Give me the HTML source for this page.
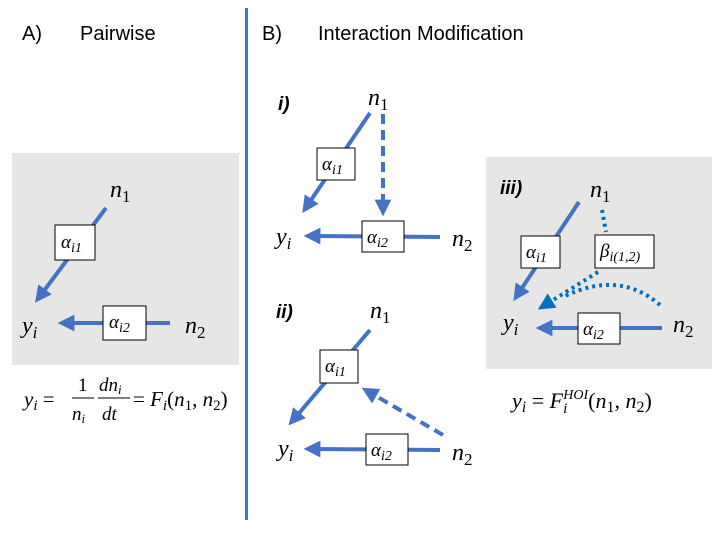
<!DOCTYPE html>
<html><head><meta charset="utf-8"><style>
body{margin:0;background:#fff}
svg{display:block}
.t{font-family:"Liberation Sans",sans-serif;font-size:20px;fill:#000}
.m{font-family:"Liberation Serif",serif;font-style:italic;fill:#000}
.lab{font-family:"Liberation Sans",sans-serif;font-style:italic;font-weight:bold;font-size:19px}
.bx{fill:#fff;stroke:#000;stroke-width:1}
.ln{stroke:#4472c4;stroke-width:4;fill:none}
.dt{stroke:#0070c0;stroke-width:4;fill:none;stroke-dasharray:3 4}
</style></head><body>
<svg width="720" height="540" viewBox="0 0 720 540">
<defs><marker id="ah" viewBox="0 0 10 10" refX="5" refY="5" markerWidth="4.2" markerHeight="4.2" orient="auto"><path d="M0,0L10,5L0,10z" fill="#4472c4"/></marker>
<marker id="ah2" viewBox="0 0 10 10" refX="5" refY="5" markerWidth="4.2" markerHeight="4.2" orient="auto"><path d="M0,0L10,5L0,10z" fill="#0070c0"/></marker></defs>
<text class="t" x="22" y="40">A)</text>
<text class="t" x="80" y="40">Pairwise</text>
<text class="t" x="262" y="40">B)</text>
<text class="t" x="318" y="40">Interaction Modification</text>
<rect x="245" y="8" width="3" height="512" fill="#4472c4"/>
<g>
<rect x="12" y="153" width="227" height="212" fill="#e6e6e6"/>
<line class="ln" x1="106" y1="208" x2="40" y2="296" marker-end="url(#ah)"/>
<line class="ln" x1="170" y1="323" x2="66" y2="323" marker-end="url(#ah)"/>
<rect class="bx" x="55" y="225" width="40" height="35"/><text class="m" x="61" y="248" font-size="19">α<tspan font-size="14" dy="4">i1</tspan></text>
<rect class="bx" x="103" y="306" width="43" height="34"/><text class="m" x="109" y="328" font-size="19">α<tspan font-size="14" dy="4">i2</tspan></text>
<text class="m" x="110" y="197" font-size="24">n<tspan font-size="17" dy="5" font-style="normal">1</tspan></text>
<text class="m" x="185" y="333" font-size="24">n<tspan font-size="17" dy="5" font-style="normal">2</tspan></text>
<text class="m" x="22" y="333" font-size="24">y<tspan font-size="17" dy="5">i</tspan></text>
</g>
<g>
<text class="m" x="24" y="406" font-size="21">y<tspan font-size="15" dy="4">i</tspan><tspan dy="-4" font-style="normal"> =</tspan></text>
<text x="78" y="391" font-family="Liberation Serif" font-size="19">1</text>
<line x1="72" y1="398" x2="94" y2="398" stroke="#000" stroke-width="1"/>
<text class="m" x="72" y="420" font-size="19">n<tspan font-size="13" dy="3">i</tspan></text>
<text class="m" x="99" y="391" font-size="19">dn<tspan font-size="13" dy="3">i</tspan></text>
<line x1="98" y1="398" x2="130" y2="398" stroke="#000" stroke-width="1"/>
<text class="m" x="102" y="420" font-size="19">dt</text>
<text class="m" x="133" y="406" font-size="21"><tspan font-style="normal">= </tspan>F<tspan font-size="15" dy="4">i</tspan><tspan dy="-4" font-style="normal">(</tspan>n<tspan font-size="15" dy="4" font-style="normal">1</tspan><tspan dy="-4" font-style="normal">, </tspan>n<tspan font-size="15" dy="4" font-style="normal">2</tspan><tspan dy="-4" font-style="normal">)</tspan></text>
</g>
<g>
<text class="lab" x="278" y="110">i)</text>
<line class="ln" x1="370" y1="113" x2="307" y2="206" marker-end="url(#ah)"/>
<line class="ln" x1="383" y1="114" x2="383" y2="208" stroke-dasharray="10 6" marker-end="url(#ah)"/>
<line class="ln" x1="440" y1="237" x2="312" y2="236" marker-end="url(#ah)"/>
<rect class="bx" x="317" y="148" width="38" height="32"/><text class="m" x="322" y="170" font-size="19">α<tspan font-size="14" dy="4">i1</tspan></text>
<rect class="bx" x="362" y="221" width="42" height="31"/><text class="m" x="367" y="243" font-size="19">α<tspan font-size="14" dy="4">i2</tspan></text>
<text class="m" x="368" y="105" font-size="24">n<tspan font-size="17" dy="5" font-style="normal">1</tspan></text>
<text class="m" x="452" y="246" font-size="24">n<tspan font-size="17" dy="5" font-style="normal">2</tspan></text>
<text class="m" x="276" y="244" font-size="24">y<tspan font-size="17" dy="5">i</tspan></text>
</g>
<g>
<text class="lab" x="276" y="318">ii)</text>
<line class="ln" x1="370" y1="330" x2="294" y2="419" marker-end="url(#ah)"/>
<line class="ln" x1="443" y1="435" x2="369" y2="392" stroke-dasharray="10 6" marker-end="url(#ah)"/>
<line class="ln" x1="440" y1="450" x2="312" y2="449" marker-end="url(#ah)"/>
<rect class="bx" x="320" y="350" width="38" height="33"/><text class="m" x="325" y="372" font-size="19">α<tspan font-size="14" dy="4">i1</tspan></text>
<rect class="bx" x="366" y="434" width="42" height="31"/><text class="m" x="371" y="456" font-size="19">α<tspan font-size="14" dy="4">i2</tspan></text>
<text class="m" x="370" y="318" font-size="24">n<tspan font-size="17" dy="5" font-style="normal">1</tspan></text>
<text class="m" x="452" y="460" font-size="24">n<tspan font-size="17" dy="5" font-style="normal">2</tspan></text>
<text class="m" x="278" y="456" font-size="24">y<tspan font-size="17" dy="5">i</tspan></text>
</g>
<g>
<rect x="486" y="157" width="226" height="212" fill="#e6e6e6"/>
<text class="lab" x="500" y="194">iii)</text>
<line class="ln" x1="579" y1="202" x2="518" y2="294" marker-end="url(#ah)"/>
<line class="dt" x1="602" y1="210" x2="606" y2="232"/>
<line class="dt" x1="598" y1="272" x2="545" y2="305" marker-end="url(#ah2)"/>
<path class="dt" d="M660,305 Q620,270 565,296"/>
<line class="ln" x1="662" y1="328" x2="544" y2="328" marker-end="url(#ah)"/>
<rect class="bx" x="521" y="236" width="39" height="32"/><text class="m" x="526" y="258" font-size="19">α<tspan font-size="14" dy="4">i1</tspan></text>
<rect class="bx" x="595" y="235" width="59" height="33"/><text class="m" x="600" y="257" font-size="19">β<tspan font-size="14" dy="4">i(1,2)</tspan></text>
<rect class="bx" x="578" y="313" width="42" height="31"/><text class="m" x="583" y="335" font-size="19">α<tspan font-size="14" dy="4">i2</tspan></text>
<text class="m" x="590" y="197" font-size="24">n<tspan font-size="17" dy="5" font-style="normal">1</tspan></text>
<text class="m" x="673" y="332" font-size="24">n<tspan font-size="17" dy="5" font-style="normal">2</tspan></text>
<text class="m" x="503" y="330" font-size="24">y<tspan font-size="17" dy="5">i</tspan></text>
</g>
<text class="m" x="512" y="408" font-size="22">y<tspan font-size="16" dy="4">i</tspan><tspan dy="-4" font-style="normal"> = </tspan>F<tspan font-size="15" dy="5">i</tspan><tspan font-size="14" dx="-4" dy="-14">HOI</tspan><tspan dy="9" font-style="normal">(</tspan>n<tspan font-size="16" dy="4" font-style="normal">1</tspan><tspan dy="-4" font-style="normal">, </tspan>n<tspan font-size="16" dy="4" font-style="normal">2</tspan><tspan dy="-4" font-style="normal">)</tspan></text>
</svg>
</body></html>
